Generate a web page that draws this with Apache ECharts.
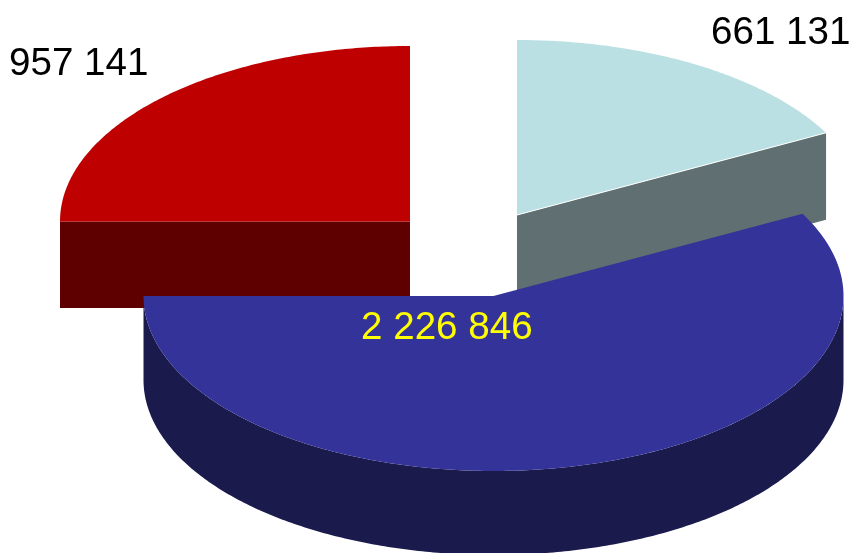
<!DOCTYPE html>
<html>
<head>
<meta charset="utf-8">
<style>html,body{margin:0;padding:0;background:#fff}#c{width:852px;height:553px}</style>
<script src="https://cdn.jsdelivr.net/npm/echarts@6/dist/echarts.min.js"></script>
</head>
<body>
<div id="c"></div>
<script>
var categories = ['A', 'B', 'C'];
var values = [661131, 2226846, 957141];
var labels = ['661 131', '2 226 846', '957 141'];
var topColors = ['#bae0e4', '#343399', '#bf0000'];
var sideColors = ['#607072', '#1a1a4d', '#5f0000'];
var labelColors = ['#000000', '#ffff00', '#000000'];

var total = values.reduce(function (a, b) { return a + b; }, 0);
var layout = [
  { cx: 517, cy: 215, rx: 350, ry: 175, depth: 87, lx: 711, ly: 33, z: 1 },
  { cx: 493.5, cy: 296, rx: 350, ry: 175, depth: 84, lx: 361, ly: 328, z: 3 },
  { cx: 410, cy: 221.5, rx: 350, ry: 175.5, depth: 86.5, lx: 9, ly: 64, z: 2 }
];

// Slice boundaries, clockwise from the top, drawn on whole degrees.
function boundary(api, upto) {
  var sum = 0;
  for (var k = 0; k < upto; k++) sum += api.value(0, k);
  return (90 - Math.round(sum / total * 360)) * Math.PI / 180;
}

function arcPoints(s, a0, a1, dy) {
  var pts = [], n = Math.max(2, Math.ceil(Math.abs(a1 - a0) * 90));
  for (var i = 0; i <= n; i++) {
    var a = a0 + (a1 - a0) * i / n;
    pts.push([s.cx + s.rx * Math.cos(a), s.cy + dy - s.ry * Math.sin(a)]);
  }
  return pts;
}

function renderItem(params, api) {
  var i = params.dataIndex;
  var s = layout[i];
  var start = boundary(api, i);
  var end = boundary(api, i + 1);
  var children = [];
  var top = arcPoints(s, start, end, 0);
  var rim = [s.cx, s.cy];
  var walls = [];
  function radial(a) {
    var p = [s.cx + s.rx * Math.cos(a), s.cy - s.ry * Math.sin(a)];
    return [rim, p, [p[0], p[1] + s.depth], [rim[0], rim[1] + s.depth]];
  }
  if (i === 0) walls.push(radial(end));
  if (i === 2) walls.push(radial(start));
  if (i === 1) {
    var lo = Math.max(end, -Math.PI), hi = Math.min(start, 0);
    walls.push(arcPoints(s, lo, hi, 0).concat(arcPoints(s, hi, lo, s.depth)));
  }
  walls.forEach(function (w) {
    children.push({ type: 'polygon', z2: s.z, shape: { points: w }, style: { fill: sideColors[i] } });
  });
  children.push({
    type: 'polygon',
    z2: s.z,
    shape: { points: [rim].concat(top) },
    style: { fill: topColors[i] }
  });
  if (i === 0) {
    children.push({
      type: 'polyline',
      z2: s.z,
      shape: { points: [rim, top[top.length - 1]] },
      style: { stroke: '#ffffff', lineWidth: 1, fill: 'none' }
    });
  }
  children.push({
    type: 'text',
    z2: 10,
    style: {
      x: s.lx, y: s.ly, text: labels[i], fill: labelColors[i],
      font: '38.6px "Liberation Sans", Arial, sans-serif',
      textAlign: 'left', textVerticalAlign: 'middle'
    }
  });
  return { type: 'group', children: children };
}

var chart = echarts.init(document.getElementById('c'), null, { renderer: 'canvas' });
chart.setOption({
  animation: false,
  backgroundColor: '#ffffff',
  series: [{
    type: 'custom',
    coordinateSystem: 'none',
    renderItem: renderItem,
    data: values.map(function (v, i) { return { name: categories[i], value: [v] }; }),
    clip: false
  }]
});
</script>
</body>
</html>
